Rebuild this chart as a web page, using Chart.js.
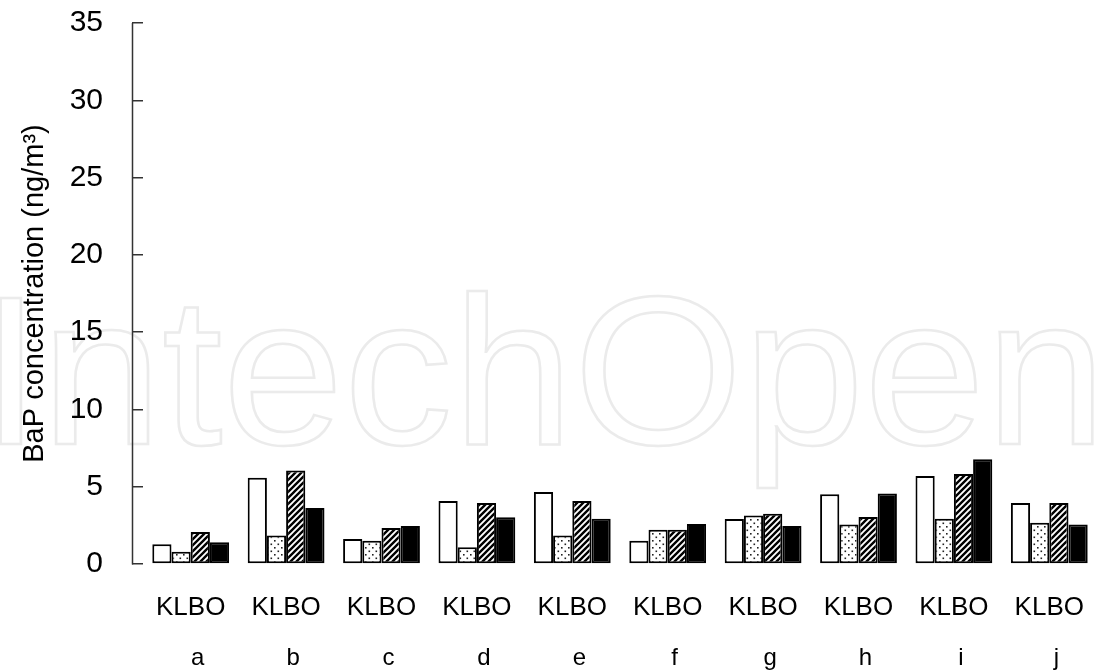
<!DOCTYPE html>
<html>
<head>
<meta charset="utf-8">
<script src="https://cdn.jsdelivr.net/npm/chart.js"></script>
<style>
  body { margin: 0; background: #fff; }
  #wrap { width: 1097px; height: 672px; }
</style>
</head>
<body>
<div id="wrap"><canvas id="grafico"></canvas></div>
<script>
const categories = ['a', 'b', 'c', 'd', 'e', 'f', 'g', 'h', 'i', 'j']
const seriesNames = ['K', 'L', 'B', 'O']
const valuesK = [1.27, 5.58, 1.62, 4.07, 4.65, 1.51, 2.91, 4.52, 5.69, 3.95]
const valuesL = [0.80, 1.85, 1.51, 1.08, 1.85, 2.22, 3.14, 2.56, 2.93, 2.67]
const valuesB = [2.07, 6.05, 2.33, 3.95, 4.07, 2.22, 3.25, 3.04, 5.82, 3.95]
const valuesO = [1.40, 3.62, 2.46, 3.02, 2.92, 2.59, 2.46, 4.56, 6.78, 2.56]
const yTicks = [0, 5, 10, 15, 20, 25, 30, 35]

const font = '"Liberation Sans", Arial, sans-serif'

// fill patterns for L (dots) and B (hatch)
function dots() {
  const c = document.createElement('canvas')
  c.width = 7; c.height = 7
  const g = c.getContext('2d')
  g.fillStyle = '#fff'
  g.fillRect(0, 0, 7, 7)
  g.fillStyle = '#222'
  g.fillRect(1, 1, 1.6, 1.6)
  g.fillRect(4.5, 4.5, 1.6, 1.6)
  return g.createPattern(c, 'repeat')
}
function hatch() {
  const c = document.createElement('canvas')
  c.width = 6; c.height = 6
  const g = c.getContext('2d')
  g.fillStyle = '#fff'
  g.fillRect(0, 0, 6, 6)
  g.strokeStyle = '#000'
  g.lineWidth = 2.4
  g.beginPath()
  g.moveTo(-1, 7); g.lineTo(7, -1)
  g.moveTo(-4, 4); g.lineTo(4, -4)
  g.moveTo(2, 10); g.lineTo(10, 2)
  g.stroke()
  return g.createPattern(c, 'repeat')
}

const fills = ['#fff', dots(), hatch(), '#000']
const allValues = [valuesK, valuesL, valuesB, valuesO]

const extras = {
  id: 'extras',
  beforeDraw(chart) {
    const c = chart.ctx
    c.save()
    c.font = '212px ' + font
    const m = c.measureText('IntechOpen')
    const w = m.actualBoundingBoxLeft + m.actualBoundingBoxRight
    c.translate(0, 444)
    c.scale(1093 / w, 1)
    c.strokeStyle = '#ebebeb'
    c.lineWidth = 2.5
    c.strokeText('IntechOpen', m.actualBoundingBoxLeft, 0)
    c.restore()
  },
  afterDraw(chart) {
    const y = chart.scales.y
    const c = chart.ctx
    const x0 = Math.round(y.right - y.options.grid.tickLength) + 0.5
    c.save()
    c.strokeStyle = '#333'
    c.lineWidth = 1.5
    c.beginPath()
    c.moveTo(x0, y.top)
    c.lineTo(x0, y.bottom + 0.5)
    c.stroke()
    c.restore()
  }
}

function noPad(s) {
  s.paddingLeft = 0; s.paddingRight = 0
  s.paddingTop = 0; s.paddingBottom = 0
}

const ctx = document.getElementById('grafico')
new Chart(ctx, {
  type: 'bar',
  data: {
    labels: categories,
    datasets: seriesNames.map((name, i) => ({
      label: name,
      data: allValues[i],
      backgroundColor: fills[i],
      borderColor: '#000',
      borderWidth: 2,
      borderSkipped: false,
      barPercentage: 1,
      categoryPercentage: 0.805
    }))
  },
  options: {
    responsive: true,
    maintainAspectRatio: false,
    animation: false,
    layout: { padding: { top: 23, left: 0, right: 0, bottom: 0 } },
    plugins: {
      legend: { display: false },
      tooltip: { enabled: false }
    },
    scales: {
      x: {
        weight: 0,
        grid: { display: false, drawTicks: false },
        border: { display: false },
        ticks: {
          autoSkip: false,
          maxRotation: 0,
          padding: 28,
          color: '#000',
          font: { size: 26, family: font },
          callback: () => seriesNames.join('')
        },
        afterFit: s => { s.height = 62; noPad(s) }
      },
      x2: {
        type: 'category',
        position: 'bottom',
        weight: 1,
        labels: categories,
        offset: true,
        grid: { display: false, drawTicks: false },
        border: { display: false },
        ticks: {
          autoSkip: false,
          maxRotation: 0,
          padding: 18,
          labelOffset: 7,
          color: '#000',
          font: { size: 24, family: font }
        },
        afterFit: s => { s.height = 46; noPad(s) }
      },
      y: {
        min: 0,
        max: 35,
        afterBuildTicks: s => { s.ticks = yTicks.map(v => ({ value: v })) },
        grid: { drawOnChartArea: false, tickLength: 11, color: '#333', lineWidth: 1.5 },
        border: { display: false },
        ticks: {
          padding: 29,
          color: '#000',
          font: { size: 30, family: font }
        },
        title: {
          display: true,
          text: 'BaP concentration (ng/m³)',
          color: '#000',
          font: { size: 29, family: font },
          padding: { top: 18, bottom: 0 }
        },
        afterFit: s => { s.width = 143; noPad(s) }
      }
    }
  },
  plugins: [extras]
});
</script>
</body>
</html>
